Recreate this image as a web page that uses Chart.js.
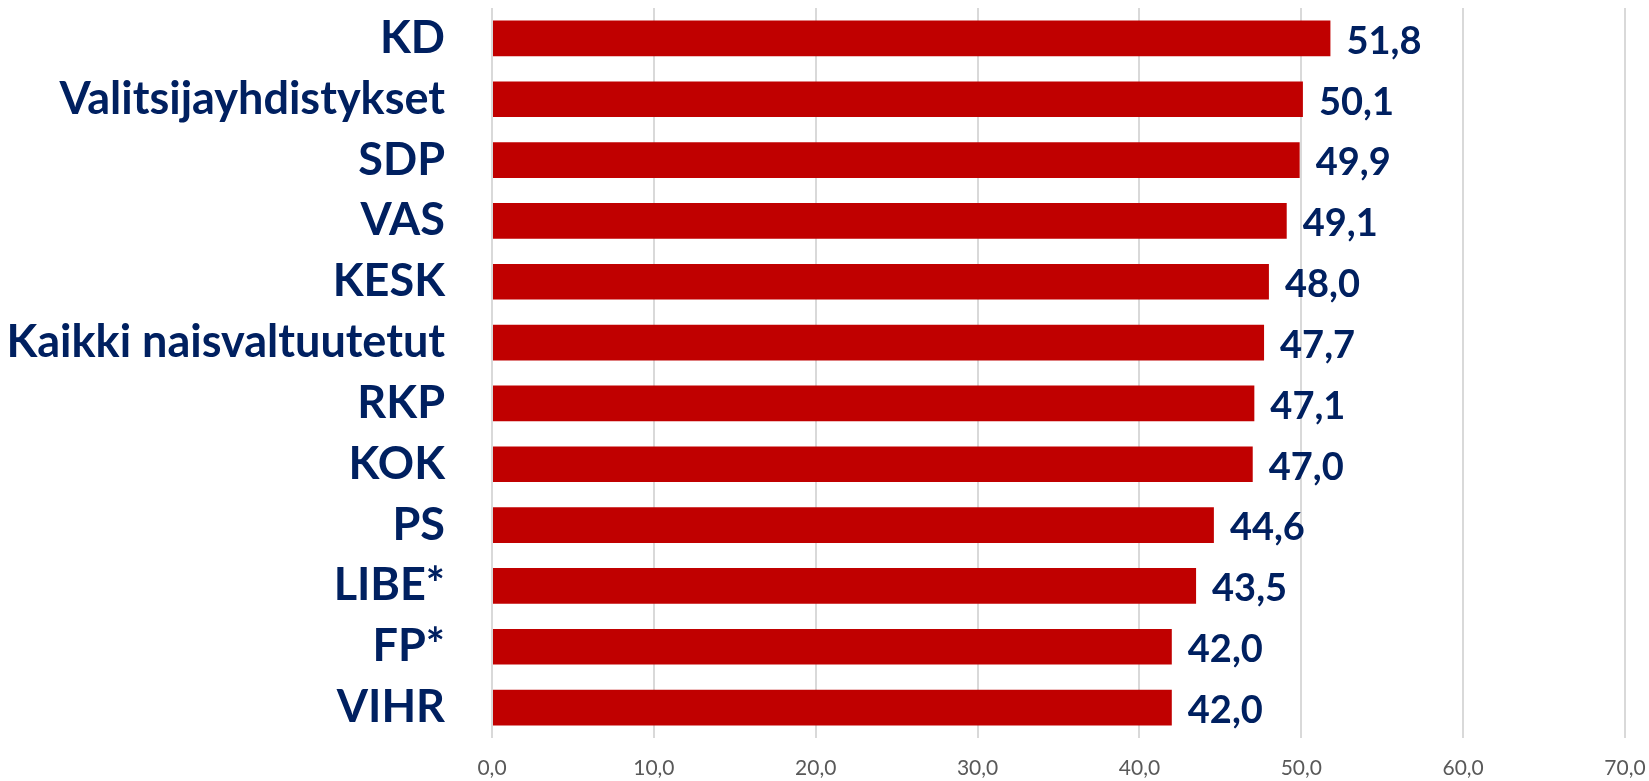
<!DOCTYPE html>
<html>
<head>
<meta charset="utf-8">
<script src="https://cdn.jsdelivr.net/npm/chart.js@4/dist/chart.umd.min.js"></script>
<style>
html,body{margin:0;padding:0;background:#fff;}
#wrap{width:1649px;height:781px;position:relative;}
</style>
</head>
<body>
<div id="wrap"><canvas id="c"></canvas></div>
<script>
const categories = ["KD","Valitsijayhdistykset","SDP","VAS","KESK","Kaikki naisvaltuutetut","RKP","KOK","PS","LIBE*","FP*","VIHR"];
const values = [51.8,50.1,49.9,49.1,48.0,47.7,47.1,47.0,44.6,43.5,42.0,42.0];
const xTicks = [0,10,20,30,40,50,60,70];

const fmt = v => Number(v).toFixed(1).replace('.', ',');
const NAVY = '#002060';

const valueLabels = {
  id: 'valueLabels',
  afterDatasetsDraw(chart) {
    const ctx = chart.ctx;
    const meta = chart.getDatasetMeta(0);
    ctx.save();
    ctx.font = 'bold 38px Lato';
    ctx.fillStyle = NAVY;
    ctx.textAlign = 'left';
    ctx.textBaseline = 'middle';
    meta.data.forEach((bar, i) => {
      ctx.fillText(fmt(values[i]), bar.x + 16, bar.y + 3);
    });
    ctx.restore();
  }
};

new Chart(document.getElementById('c'), {
  type: 'bar',
  data: {
    labels: categories,
    datasets: [{
      data: values,
      backgroundColor: '#C00000',
      categoryPercentage: 1,
      barPercentage: 0.587
    }]
  },
  options: {
    indexAxis: 'y',
    responsive: true,
    maintainAspectRatio: false,
    animation: false,
    layout: { padding: { top: 8, right: 24, bottom: 0, left: 0 } },
    plugins: { legend: { display: false }, tooltip: { enabled: false } },
    scales: {
      x: {
        min: 0, max: 70,
        afterBuildTicks(scale) { scale.ticks = xTicks.map(v => ({ value: v })); },
        afterFit(scale) { scale.paddingLeft = 0; scale.paddingRight = 0; scale.height = 43; },
        grid: { color: '#d9d9d9', lineWidth: 2, drawTicks: false },
        border: { display: false },
        ticks: {
          padding: 18,
          maxRotation: 0,
          color: '#595959',
          font: { family: 'Lato', size: 21 },
          callback: v => fmt(v)
        }
      },
      y: {
        grid: { display: false, drawTicks: false },
        border: { display: false },
        afterFit(scale) { scale.width = 492; scale.paddingTop = 0; scale.paddingBottom = 0; },
        ticks: {
          padding: 47,
          color: NAVY,
          font: { family: 'Lato', size: 45, weight: 'bold' }
        }
      }
    }
  },
  plugins: [valueLabels]
});
</script>
</body>
</html>
